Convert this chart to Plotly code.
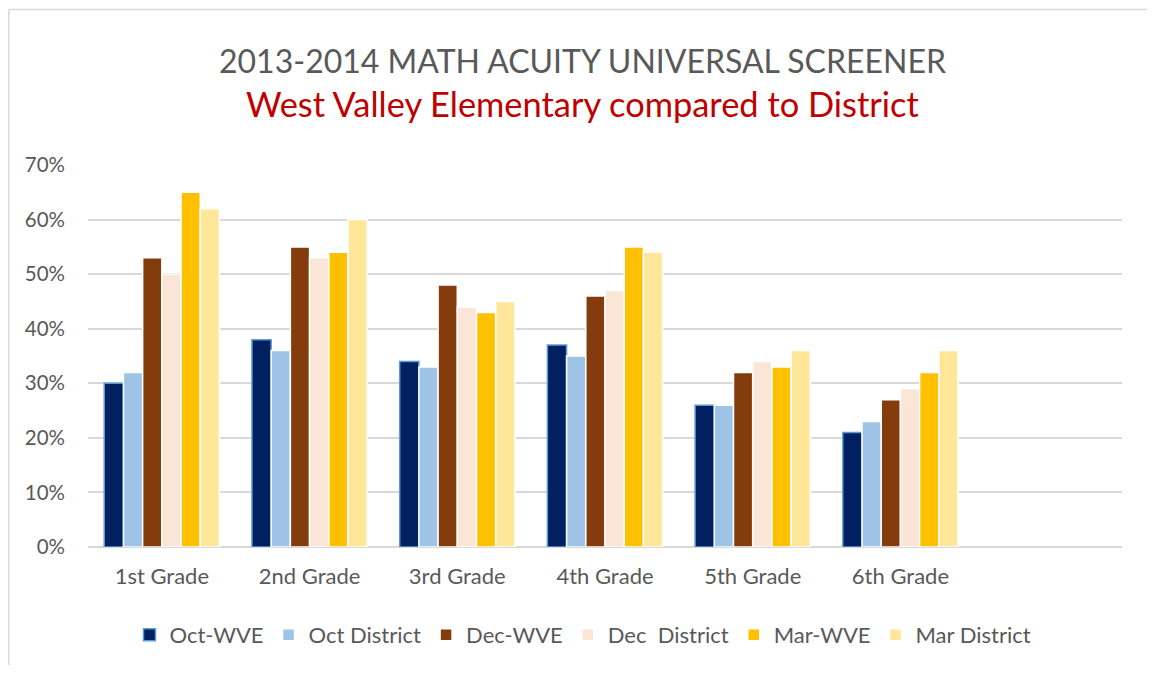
import plotly.graph_objects as go

categories = ["1st Grade", "2nd Grade", "3rd Grade", "4th Grade", "5th Grade", "6th Grade"]
series_names = ["Oct-WVE", "Oct District", "Dec-WVE", "Dec  District", "Mar-WVE", "Mar District"]
oct_wve = [0.30, 0.38, 0.34, 0.37, 0.26, 0.21]
oct_district = [0.32, 0.36, 0.33, 0.35, 0.26, 0.23]
dec_wve = [0.53, 0.55, 0.48, 0.46, 0.32, 0.27]
dec_district = [0.50, 0.53, 0.44, 0.47, 0.34, 0.29]
mar_wve = [0.65, 0.54, 0.43, 0.55, 0.33, 0.32]
mar_district = [0.62, 0.60, 0.45, 0.54, 0.36, 0.36]
y_ticks = [0, 0.1, 0.2, 0.3, 0.4, 0.5, 0.6, 0.7]

series_values = [oct_wve, oct_district, dec_wve, dec_district, mar_wve, mar_district]
colors = ["#002060", "#9DC3E6", "#843C0C", "#FBE5D6", "#FFC000", "#FFE699"]
line_colors = ["#5B9BD5", "#FFFFFF", "#FFFFFF", "#FFFFFF", "#FFFFFF", "#FFFFFF"]

FONT = "Lato"
GRAY = "#595959"

W, H = 1139, 657
L, R, T, B = 80, 25, 157, 118
PH = H - T - B
PW = W - L - R

fig = go.Figure()
for name, vals, c, lc in zip(series_names, series_values, colors, line_colors):
    fig.add_trace(go.Bar(
        x=categories, y=vals, name=name,
        marker=dict(color=c, line=dict(color=lc, width=1.5)),
    ))

x_left = (0.75 - L) / PW
y_top = 1 + (T - 1.5) / PH

fig.update_layout(
    width=W, height=H,
    barmode="group", bargap=0.22, bargroupgap=0,
    paper_bgcolor="white", plot_bgcolor="white",
    margin=dict(l=L, r=R, t=T, b=B, autoexpand=False),
    font=dict(family=FONT, color=GRAY, size=20),
    showlegend=True,
    legend=dict(orientation="h", x=(575 - L) / PW, xanchor="center", y=-88 / PH, yanchor="middle",
                font=dict(size=22, color=GRAY), traceorder="normal", itemwidth=30),
    xaxis=dict(range=[-0.5, 6.5], showgrid=False, showline=False, ticks="",
               tickfont=dict(size=22, color=GRAY), ticklabelstandoff=14),
    yaxis=dict(range=[0, 0.7001], tickvals=y_ticks, tickformat=".0%",
               showgrid=True, gridcolor="#D9D9D9", gridwidth=1.5,
               zeroline=True, zerolinecolor="#D9D9D9", zerolinewidth=1.5,
               showline=False, ticks="", tickfont=dict(size=20.5, color=GRAY),
               ticklabelstandoff=22),
    annotations=[
        dict(text="2013-2014 MATH ACUITY UNIVERSAL SCREENER", xref="paper", yref="paper",
             x=(574 - L) / PW, y=1.0, xanchor="center", yanchor="middle", showarrow=False,
             font=dict(family=FONT, size=32, color=GRAY),
             yshift=T - 52),
        dict(text="West Valley Elementary compared to District", xref="paper", yref="paper",
             x=(574 - L) / PW, y=1.0, xanchor="center", yanchor="middle", showarrow=False,
             font=dict(family=FONT, size=34.4, color="#C00000"),
             yshift=T - 95),
    ],
    shapes=[
        dict(type="line", xref="paper", yref="paper", x0=x_left, x1=x_left, y0=-0.5, y1=y_top,
             line=dict(color="#D9D9D9", width=1.5), layer="below"),
        dict(type="line", xref="paper", yref="paper", x0=x_left, x1=1.2, y0=y_top, y1=y_top,
             line=dict(color="#D9D9D9", width=1.5), layer="below"),
    ],
)

fig.write_html("out.html")
